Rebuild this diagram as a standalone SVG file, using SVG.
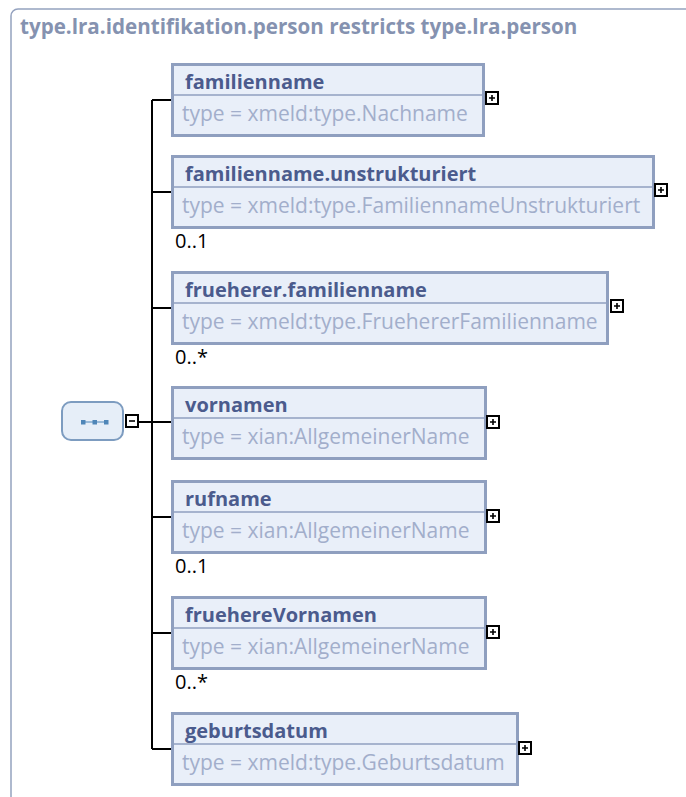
<svg xmlns="http://www.w3.org/2000/svg" width="686" height="797" viewBox="0 0 686 797">
<style>
.frame{fill:#ffffff;stroke:#94a2bf;stroke-width:1.5}
.title{font-family:"Open Sans","DejaVu Sans",sans-serif;font-weight:bold;font-size:20.6px;fill:#8592b0}
.box{fill:#e9eff9;stroke:#8f9fbf;stroke-width:3}
.div{stroke:#8f9fbf;stroke-width:1.5}
.name{font-family:"Open Sans","DejaVu Sans",sans-serif;font-weight:bold;font-size:20px;fill:#4b5b8d}
.type{font-family:"Open Sans","DejaVu Sans",sans-serif;font-size:21px;fill:#a2aecb}
.mult{font-family:"Open Sans","DejaVu Sans",sans-serif;font-size:20px;fill:#000}
.pm{fill:#ffffff;stroke:#000;stroke-width:2}
.pmline{stroke:#000;stroke-width:1.6}
.conn{stroke:#000;stroke-width:2;fill:none}
.seq{fill:#e6eef8;stroke:#7d9cc0;stroke-width:2}
.seqi{fill:#4f86b8}
</style>
<rect class="frame" x="11" y="9" width="700" height="800" rx="7"/>
<text class="title" x="20" y="34">type.lra.identifikation.person restricts type.lra.person</text>

<g id="connectors">
<path class="conn" d="M152,100 V749"/>
<path class="conn" d="M152,100 H171"/>
<path class="conn" d="M152,192 H171"/>
<path class="conn" d="M152,308 H171"/>
<path class="conn" d="M139,422 H171"/>
<path class="conn" d="M152,517 H171"/>
<path class="conn" d="M152,633 H171"/>
<path class="conn" d="M152,749 H171"/>
</g>

<g id="sequence">
<rect class="seq" x="62" y="402" width="61" height="38" rx="9"/>
<line x1="83" y1="422" x2="106" y2="422" stroke="#4f86b8" stroke-width="1"/>
<rect class="seqi" x="81" y="420" width="4.5" height="4.5"/>
<rect class="seqi" x="92.5" y="420" width="4.5" height="4.5"/>
<rect class="seqi" x="104" y="420" width="4.5" height="4.5"/>
<rect class="pm" x="126" y="415" width="12" height="12"/>
<line class="pmline" x1="129" y1="421" x2="135" y2="421"/>
</g>

<g id="familienname">
<rect class="box" x="172.5" y="64.5" width="311" height="71"/>
<line class="div" x1="174" y1="95" x2="482" y2="95"/>
<text class="name" x="185" y="89">familienname</text>
<text class="type" x="182" y="121">type = xmeld:type.Nachname</text>
<rect class="pm" x="486" y="92" width="12" height="12"/>
<path class="pmline" d="M489,98 H495 M492,95 V101"/>
</g>

<g id="familienname.unstrukturiert">
<rect class="box" x="172.5" y="156.5" width="481" height="71"/>
<line class="div" x1="174" y1="187" x2="652" y2="187"/>
<text class="name" x="185" y="181">familienname.unstrukturiert</text>
<text class="type" x="182" y="213">type = xmeld:type.FamiliennameUnstrukturiert</text>
<rect class="pm" x="655" y="184" width="12" height="12"/>
<path class="pmline" d="M658,190 H664 M661,187 V193"/>
<text class="mult" x="175" y="248">0..1</text>
</g>

<g id="frueherer.familienname">
<rect class="box" x="172.5" y="272.5" width="435" height="71"/>
<line class="div" x1="174" y1="303" x2="606" y2="303"/>
<text class="name" x="185" y="297">frueherer.familienname</text>
<text class="type" x="182" y="329">type = xmeld:type.FruehererFamilienname</text>
<rect class="pm" x="611" y="300" width="12" height="12"/>
<path class="pmline" d="M614,306 H620 M617,303 V309"/>
<text class="mult" x="175" y="364">0..*</text>
</g>

<g id="vornamen">
<rect class="box" x="172.5" y="387.5" width="313" height="71"/>
<line class="div" x1="174" y1="418" x2="484" y2="418"/>
<text class="name" x="185" y="412">vornamen</text>
<text class="type" x="182" y="444">type = xian:AllgemeinerName</text>
<rect class="pm" x="487" y="416" width="12" height="12"/>
<path class="pmline" d="M490,422 H496 M493,419 V425"/>
</g>

<g id="rufname">
<rect class="box" x="172.5" y="481.5" width="313" height="71"/>
<line class="div" x1="174" y1="512" x2="484" y2="512"/>
<text class="name" x="185" y="506">rufname</text>
<text class="type" x="182" y="538">type = xian:AllgemeinerName</text>
<rect class="pm" x="487" y="510" width="12" height="12"/>
<path class="pmline" d="M490,516 H496 M493,513 V519"/>
<text class="mult" x="175" y="573">0..1</text>
</g>

<g id="fruehereVornamen">
<rect class="box" x="172.5" y="597.5" width="313" height="71"/>
<line class="div" x1="174" y1="628" x2="484" y2="628"/>
<text class="name" x="185" y="622">fruehereVornamen</text>
<text class="type" x="182" y="654">type = xian:AllgemeinerName</text>
<rect class="pm" x="487" y="626" width="12" height="12"/>
<path class="pmline" d="M490,632 H496 M493,629 V635"/>
<text class="mult" x="175" y="689">0..*</text>
</g>

<g id="geburtsdatum">
<rect class="box" x="172.5" y="713.5" width="345" height="71"/>
<line class="div" x1="174" y1="744" x2="516" y2="744"/>
<text class="name" x="185" y="738">geburtsdatum</text>
<text class="type" x="182" y="770">type = xmeld:type.Geburtsdatum</text>
<rect class="pm" x="519" y="742" width="12" height="12"/>
<path class="pmline" d="M522,748 H528 M525,745 V751"/>
</g>
</svg>
